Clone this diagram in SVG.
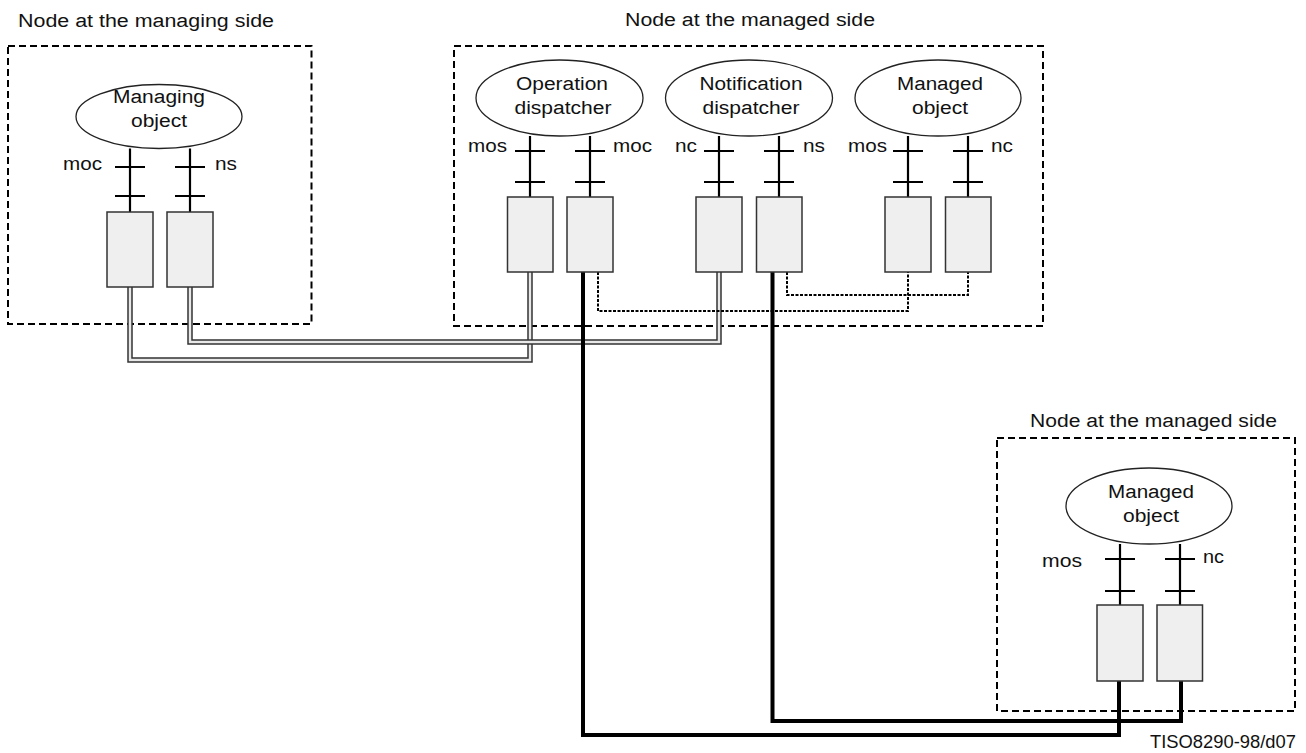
<svg xmlns="http://www.w3.org/2000/svg" width="1306" height="753" viewBox="0 0 1306 753">
<style>
text{font-family:"Liberation Sans",Arial,sans-serif;font-size:18px;fill:#111}
.c{text-anchor:middle}
.box{fill:none;stroke:#000;stroke-width:2;stroke-dasharray:7 4}
.ell{fill:#fff;stroke:#222;stroke-width:1.3}
.stem{stroke:#000;stroke-width:2.2;fill:none}
.port{fill:#efefef;stroke:#333;stroke-width:1.5}
.dblo{fill:none;stroke:#333;stroke-width:5.5}
.dbli{fill:none;stroke:#e8e8e8;stroke-width:2.5}
.thick{fill:none;stroke:#000;stroke-width:4}
.dot{fill:none;stroke:#000;stroke-width:2;stroke-dasharray:3 1.5}
</style>
<rect width="1306" height="753" fill="#fff"/>

<g id="node-managing">
<rect class="box" x="8" y="46" width="303.5" height="278"/>
<text x="18" y="27" textLength="256" lengthAdjust="spacingAndGlyphs">Node at the managing side</text>
</g>
<g id="node-managed-1">
<rect class="box" x="454" y="46" width="589" height="280"/>
<text x="625" y="26" textLength="250" lengthAdjust="spacingAndGlyphs">Node at the managed side</text>
</g>
<g id="node-managed-2">
<rect class="box" x="997" y="438" width="298" height="273"/>
<text x="1030" y="427" textLength="247" lengthAdjust="spacingAndGlyphs">Node at the managed side</text>
</g>

<g id="connectors">
<path class="dblo" d="M130 287V360H530V272"/>
<path class="dbli" d="M130 287V360H530V272"/>
<path class="dblo" d="M190 287V342H719V272"/>
<path class="dbli" d="M190 287V342H719V272"/>
<path class="dot" d="M598 272V311H908V272"/>
<path class="dot" d="M787 272V295H968V272"/>
<path class="thick" d="M583 272V735H1119V681"/>
<path class="thick" d="M772.5 272V721H1181V681"/>
</g>

<g id="managing-object">
<ellipse class="ell" cx="159" cy="116.5" rx="83" ry="32"/>
<text class="c" x="159" y="103" textLength="92" lengthAdjust="spacingAndGlyphs">Managing</text>
<text class="c" x="159" y="127" textLength="56" lengthAdjust="spacingAndGlyphs">object</text>
<path class="stem" d="M130 148.5V212M115 167H145M115 196H145M190 148.5V212M175 167H205M175 196H205"/>
<text x="63" y="170" textLength="39" lengthAdjust="spacingAndGlyphs">moc</text>
<text x="215" y="170" textLength="22" lengthAdjust="spacingAndGlyphs">ns</text>
<rect class="port" x="107" y="212" width="46" height="75"/>
<rect class="port" x="167" y="212" width="46" height="75"/>
</g>

<g id="operation-dispatcher">
<ellipse class="ell" cx="559.5" cy="98" rx="83.5" ry="38"/>
<text class="c" x="562" y="90" textLength="92" lengthAdjust="spacingAndGlyphs">Operation</text>
<text class="c" x="563" y="114" textLength="97" lengthAdjust="spacingAndGlyphs">dispatcher</text>
<path class="stem" d="M530 136V197M515 151H545M515 182H545M590 136V197M575 151H605M575 182H605"/>
<text x="468" y="152" textLength="39" lengthAdjust="spacingAndGlyphs">mos</text>
<text x="613" y="152" textLength="39" lengthAdjust="spacingAndGlyphs">moc</text>
<rect class="port" x="507.5" y="197" width="45.5" height="75"/>
<rect class="port" x="567" y="197" width="46" height="75"/>
</g>

<g id="notification-dispatcher">
<ellipse class="ell" cx="749" cy="98" rx="83.5" ry="38"/>
<text class="c" x="751" y="90" textLength="103" lengthAdjust="spacingAndGlyphs">Notification</text>
<text class="c" x="751" y="114" textLength="97" lengthAdjust="spacingAndGlyphs">dispatcher</text>
<path class="stem" d="M719 136V197M704 151H734M704 182H734M779 136V197M764 151H794M764 182H794"/>
<text x="675" y="152" textLength="22" lengthAdjust="spacingAndGlyphs">nc</text>
<text x="803" y="152" textLength="22" lengthAdjust="spacingAndGlyphs">ns</text>
<rect class="port" x="696" y="197" width="46" height="75"/>
<rect class="port" x="756.5" y="197" width="45.5" height="75"/>
</g>

<g id="managed-object-1">
<ellipse class="ell" cx="938" cy="98" rx="83" ry="38"/>
<text class="c" x="940" y="90" textLength="86" lengthAdjust="spacingAndGlyphs">Managed</text>
<text class="c" x="940" y="114" textLength="56" lengthAdjust="spacingAndGlyphs">object</text>
<path class="stem" d="M908 136V197M893 151H923M893 182H923M968 136V197M953 151H983M953 182H983"/>
<text x="848" y="152" textLength="39" lengthAdjust="spacingAndGlyphs">mos</text>
<text x="991" y="152" textLength="22" lengthAdjust="spacingAndGlyphs">nc</text>
<rect class="port" x="885" y="197" width="46" height="75"/>
<rect class="port" x="945.5" y="197" width="45.5" height="75"/>
</g>

<g id="managed-object-2">
<ellipse class="ell" cx="1149" cy="506" rx="83" ry="38"/>
<text class="c" x="1151" y="498" textLength="86" lengthAdjust="spacingAndGlyphs">Managed</text>
<text class="c" x="1151" y="522" textLength="56" lengthAdjust="spacingAndGlyphs">object</text>
<path class="stem" d="M1120 544V605M1105 559H1135M1105 591H1135M1180 544V605M1165 559H1195M1165 591H1195"/>
<text x="1042" y="567" textLength="40" lengthAdjust="spacingAndGlyphs">mos</text>
<text x="1203" y="563" textLength="21" lengthAdjust="spacingAndGlyphs">nc</text>
<rect class="port" x="1097" y="605" width="46" height="76"/>
<rect class="port" x="1157" y="605" width="45.5" height="76"/>
</g>

<text x="1150" y="748" textLength="146" lengthAdjust="spacingAndGlyphs">TISO8290-98/d07</text>
</svg>
